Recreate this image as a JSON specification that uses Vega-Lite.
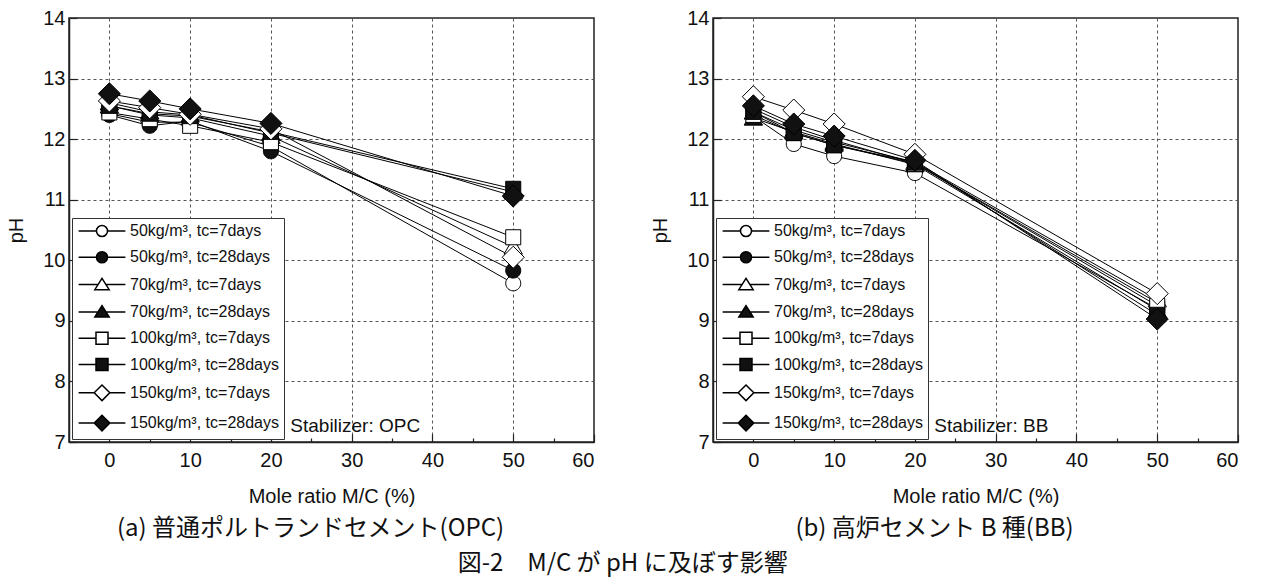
{
  "$schema": "https://vega.github.io/schema/vega-lite/v6.json",
  "background": "white",
  "padding": {"left": 6, "top": 7, "right": 5, "bottom": 5},
  "config": {
    "font": "Liberation Sans",
    "view": {"stroke": "#222", "strokeWidth": 1.5},
    "axis": {"labelFontSize": 20, "titleFontSize": 20, "titleFontWeight": "normal", "labelColor": "#111", "titleColor": "#111", "domainColor": "#222", "domainWidth": 1.5, "tickColor": "#222", "tickWidth": 1.2, "gridColor": "#555", "gridDash": [3, 3], "gridWidth": 1},
    "legend": {"orient": "bottom-left", "offset": 3, "padding": 5, "strokeColor": "#333", "fillColor": "white", "labelFontSize": 16, "labelFont": "Liberation Sans", "labelColor": "#111", "symbolSize": 144, "symbolOffset": 17, "labelOffset": 20, "rowPadding": 8.3, "labelLimit": 300},
    "title": {"font": "Noto Sans CJK JP", "fontWeight": "normal", "color": "#111"}
  },
  "datasets": {
    "opc": [
      {"ratio": 0, "pH": 12.42, "series": "50-7"},
      {"ratio": 5, "pH": 12.28, "series": "50-7"},
      {"ratio": 10, "pH": 12.28, "series": "50-7"},
      {"ratio": 20, "pH": 11.88, "series": "50-7"},
      {"ratio": 50, "pH": 9.62, "series": "50-7"},
      {"ratio": 0, "pH": 12.40, "series": "50-28"},
      {"ratio": 5, "pH": 12.22, "series": "50-28"},
      {"ratio": 10, "pH": 12.30, "series": "50-28"},
      {"ratio": 20, "pH": 11.80, "series": "50-28"},
      {"ratio": 50, "pH": 9.83, "series": "50-28"},
      {"ratio": 0, "pH": 12.55, "series": "70-7"},
      {"ratio": 5, "pH": 12.40, "series": "70-7"},
      {"ratio": 10, "pH": 12.35, "series": "70-7"},
      {"ratio": 20, "pH": 12.05, "series": "70-7"},
      {"ratio": 50, "pH": 10.22, "series": "70-7"},
      {"ratio": 0, "pH": 12.60, "series": "70-28"},
      {"ratio": 5, "pH": 12.45, "series": "70-28"},
      {"ratio": 10, "pH": 12.40, "series": "70-28"},
      {"ratio": 20, "pH": 12.10, "series": "70-28"},
      {"ratio": 50, "pH": 11.13, "series": "70-28"},
      {"ratio": 0, "pH": 12.44, "series": "100-7"},
      {"ratio": 5, "pH": 12.33, "series": "100-7"},
      {"ratio": 10, "pH": 12.22, "series": "100-7"},
      {"ratio": 20, "pH": 11.95, "series": "100-7"},
      {"ratio": 50, "pH": 10.38, "series": "100-7"},
      {"ratio": 0, "pH": 12.55, "series": "100-28"},
      {"ratio": 5, "pH": 12.42, "series": "100-28"},
      {"ratio": 10, "pH": 12.38, "series": "100-28"},
      {"ratio": 20, "pH": 12.12, "series": "100-28"},
      {"ratio": 50, "pH": 11.18, "series": "100-28"},
      {"ratio": 0, "pH": 12.63, "series": "150-7"},
      {"ratio": 5, "pH": 12.52, "series": "150-7"},
      {"ratio": 10, "pH": 12.41, "series": "150-7"},
      {"ratio": 20, "pH": 12.17, "series": "150-7"},
      {"ratio": 50, "pH": 10.05, "series": "150-7"},
      {"ratio": 0, "pH": 12.75, "series": "150-28"},
      {"ratio": 5, "pH": 12.63, "series": "150-28"},
      {"ratio": 10, "pH": 12.50, "series": "150-28"},
      {"ratio": 20, "pH": 12.26, "series": "150-28"},
      {"ratio": 50, "pH": 11.06, "series": "150-28"}
    ],
    "bb": [
      {"ratio": 0, "pH": 12.38, "series": "50-7"},
      {"ratio": 5, "pH": 11.92, "series": "50-7"},
      {"ratio": 10, "pH": 11.72, "series": "50-7"},
      {"ratio": 20, "pH": 11.44, "series": "50-7"},
      {"ratio": 50, "pH": 9.20, "series": "50-7"},
      {"ratio": 0, "pH": 12.50, "series": "50-28"},
      {"ratio": 5, "pH": 12.20, "series": "50-28"},
      {"ratio": 10, "pH": 11.98, "series": "50-28"},
      {"ratio": 20, "pH": 11.60, "series": "50-28"},
      {"ratio": 50, "pH": 9.30, "series": "50-28"},
      {"ratio": 0, "pH": 12.45, "series": "70-7"},
      {"ratio": 5, "pH": 12.15, "series": "70-7"},
      {"ratio": 10, "pH": 11.95, "series": "70-7"},
      {"ratio": 20, "pH": 11.62, "series": "70-7"},
      {"ratio": 50, "pH": 9.35, "series": "70-7"},
      {"ratio": 0, "pH": 12.35, "series": "70-28"},
      {"ratio": 5, "pH": 12.12, "series": "70-28"},
      {"ratio": 10, "pH": 11.92, "series": "70-28"},
      {"ratio": 20, "pH": 11.58, "series": "70-28"},
      {"ratio": 50, "pH": 9.18, "series": "70-28"},
      {"ratio": 0, "pH": 12.40, "series": "100-7"},
      {"ratio": 5, "pH": 12.10, "series": "100-7"},
      {"ratio": 10, "pH": 11.90, "series": "100-7"},
      {"ratio": 20, "pH": 11.60, "series": "100-7"},
      {"ratio": 50, "pH": 9.25, "series": "100-7"},
      {"ratio": 0, "pH": 12.45, "series": "100-28"},
      {"ratio": 5, "pH": 12.10, "series": "100-28"},
      {"ratio": 10, "pH": 11.90, "series": "100-28"},
      {"ratio": 20, "pH": 11.62, "series": "100-28"},
      {"ratio": 50, "pH": 9.10, "series": "100-28"},
      {"ratio": 0, "pH": 12.70, "series": "150-7"},
      {"ratio": 5, "pH": 12.48, "series": "150-7"},
      {"ratio": 10, "pH": 12.25, "series": "150-7"},
      {"ratio": 20, "pH": 11.75, "series": "150-7"},
      {"ratio": 50, "pH": 9.45, "series": "150-7"},
      {"ratio": 0, "pH": 12.55, "series": "150-28"},
      {"ratio": 5, "pH": 12.25, "series": "150-28"},
      {"ratio": 10, "pH": 12.05, "series": "150-28"},
      {"ratio": 20, "pH": 11.65, "series": "150-28"},
      {"ratio": 50, "pH": 9.03, "series": "150-28"}
    ]
  },
  "title": {"text": "図-2　M/C が pH に及ぼす影響", "orient": "bottom", "anchor": "middle", "fontSize": 24, "offset": 10},
  "spacing": 54,
  "resolve": {"scale": {"shape": "independent", "fill": "independent"}, "legend": {"shape": "independent", "fill": "independent"}},
  "hconcat": [
    {
      "width": 525,
      "height": 424,
      "title": {"text": "(a) 普通ポルトランドセメント(OPC)", "orient": "bottom", "anchor": "middle", "fontSize": 24, "offset": 11, "dx": -21},
      "layer": [
        {
          "data": {"name": "opc"},
          "mark": {"type": "line", "color": "black", "strokeWidth": 1},
          "encoding": {
            "x": {"field": "ratio", "type": "quantitative", "scale": {"domain": [-5, 60], "nice": false, "zero": false},
              "axis": {"title": "Mole ratio M/C (%)", "values": [0, 5, 10, 15, 20, 25, 30, 35, 40, 45, 50, 55, 60], "labelExpr": "datum.value % 10 === 0 ? format(datum.value, 'd') : ''", "grid": true,
                "gridOpacity": {"condition": {"test": "datum.value % 10 === 0 && datum.value < 60", "value": 1}, "value": 0},
                "tickSize": {"condition": {"test": "datum.value % 10 === 0", "value": -8}, "value": -4}, "labelPadding": 16, "titlePadding": 16}},
            "y": {"field": "pH", "type": "quantitative", "scale": {"domain": [7, 14], "nice": false, "zero": false},
              "axis": {"title": "pH", "values": [7, 7.5, 8, 8.5, 9, 9.5, 10, 10.5, 11, 11.5, 12, 12.5, 13, 13.5, 14], "labelExpr": "datum.value % 1 === 0 ? format(datum.value, 'd') : ''", "grid": true,
                "gridOpacity": {"condition": {"test": "datum.value % 1 === 0 && datum.value > 7 && datum.value < 14", "value": 1}, "value": 0},
                "tickSize": {"condition": {"test": "datum.value % 1 === 0", "value": -8}, "value": -4}, "labelPadding": 12, "titlePadding": 16}},
            "detail": {"field": "series"},
            "order": {"field": "ratio"}
          }
        },
        {
          "data": {"name": "opc"},
          "mark": {"type": "point", "filled": true, "stroke": "black", "strokeWidth": 1, "opacity": 1, "size": 256},
          "encoding": {
            "x": {"field": "ratio", "type": "quantitative"},
            "y": {"field": "pH", "type": "quantitative"},
            "shape": {"field": "series", "type": "nominal", "legend": {"title": null, "values": ["50kg/m³, tc=7days", "50kg/m³, tc=28days", "70kg/m³, tc=7days", "70kg/m³, tc=28days", "100kg/m³, tc=7days", "100kg/m³, tc=28days", "150kg/m³, tc=7days", "150kg/m³, tc=28days"]}, "scale": {"domain": ["50-7", "50-28", "70-7", "70-28", "100-7", "100-28", "150-7", "150-28", "50kg/m³, tc=7days", "50kg/m³, tc=28days", "70kg/m³, tc=7days", "70kg/m³, tc=28days", "100kg/m³, tc=7days", "100kg/m³, tc=28days", "150kg/m³, tc=7days", "150kg/m³, tc=28days"],
              "range": ["M-0.94,0A0.94,0.94 0 1,1 0.94,0A0.94,0.94 0 1,1 -0.94,0Z", "M-0.94,0A0.94,0.94 0 1,1 0.94,0A0.94,0.94 0 1,1 -0.94,0Z", "M0,-1.1L1.15,0.9L-1.15,0.9Z", "M0,-1.1L1.15,0.9L-1.15,0.9Z", "M-0.94,-0.94H0.94V0.94H-0.94Z", "M-0.94,-0.94H0.94V0.94H-0.94Z", "M-1.38,0L0,-1.38L1.38,0L0,1.38Z", "M-1.38,0L0,-1.38L1.38,0L0,1.38Z",
                "M-3.9,0H-0.92M0.92,0H3.9M-0.92,0A0.92,0.92 0 1,1 0.92,0A0.92,0.92 0 1,1 -0.92,0Z", "M-3.9,0H-0.92M0.92,0H3.9M-0.92,0A0.92,0.92 0 1,1 0.92,0A0.92,0.92 0 1,1 -0.92,0Z", "M-3.9,0H-0.66M0.66,0H3.9M0,-1.05L1.2,0.85L-1.2,0.85Z", "M-3.9,0H-0.66M0.66,0H3.9M0,-1.05L1.2,0.85L-1.2,0.85Z", "M-3.9,0H-1M1,0H3.9M-1,-1H1V1H-1Z", "M-3.9,0H-1M1,0H3.9M-1,-1H1V1H-1Z", "M-3.9,0H-1.3M1.3,0H3.9M-1.3,0L0,-1.3L1.3,0L0,1.3Z", "M-3.9,0H-1.3M1.3,0H3.9M-1.3,0L0,-1.3L1.3,0L0,1.3Z"]}},
            "fill": {"field": "series", "type": "nominal", "legend": {"title": null, "values": ["50kg/m³, tc=7days", "50kg/m³, tc=28days", "70kg/m³, tc=7days", "70kg/m³, tc=28days", "100kg/m³, tc=7days", "100kg/m³, tc=28days", "150kg/m³, tc=7days", "150kg/m³, tc=28days"]}, "scale": {"domain": ["50-7", "50-28", "70-7", "70-28", "100-7", "100-28", "150-7", "150-28", "50kg/m³, tc=7days", "50kg/m³, tc=28days", "70kg/m³, tc=7days", "70kg/m³, tc=28days", "100kg/m³, tc=7days", "100kg/m³, tc=28days", "150kg/m³, tc=7days", "150kg/m³, tc=28days"],
              "range": ["white", "#111", "white", "#111", "white", "#111", "white", "#111", "white", "#111", "white", "#111", "white", "#111", "white", "#111"]}}
          }
        },
        {
          "data": {"values": [{"label": "Stabilizer: OPC"}]},
          "mark": {"type": "text", "align": "left", "baseline": "middle", "fontSize": 19, "color": "#111"},
          "encoding": {
            "x": {"datum": 22.4, "type": "quantitative"},
            "y": {"datum": 7.26, "type": "quantitative"},
            "text": {"field": "label"}
          }
        }
      ]
    },
    {
      "width": 525,
      "height": 424,
      "title": {"text": "(b) 高炉セメント B 種(BB)", "orient": "bottom", "anchor": "middle", "fontSize": 24, "offset": 11, "dx": -41},
      "layer": [
        {
          "data": {"name": "bb"},
          "mark": {"type": "line", "color": "black", "strokeWidth": 1},
          "encoding": {
            "x": {"field": "ratio", "type": "quantitative", "scale": {"domain": [-5, 60], "nice": false, "zero": false},
              "axis": {"title": "Mole ratio M/C (%)", "values": [0, 5, 10, 15, 20, 25, 30, 35, 40, 45, 50, 55, 60], "labelExpr": "datum.value % 10 === 0 ? format(datum.value, 'd') : ''", "grid": true,
                "gridOpacity": {"condition": {"test": "datum.value % 10 === 0 && datum.value < 60", "value": 1}, "value": 0},
                "tickSize": {"condition": {"test": "datum.value % 10 === 0", "value": -8}, "value": -4}, "labelPadding": 16, "titlePadding": 16}},
            "y": {"field": "pH", "type": "quantitative", "scale": {"domain": [7, 14], "nice": false, "zero": false},
              "axis": {"title": "pH", "values": [7, 7.5, 8, 8.5, 9, 9.5, 10, 10.5, 11, 11.5, 12, 12.5, 13, 13.5, 14], "labelExpr": "datum.value % 1 === 0 ? format(datum.value, 'd') : ''", "grid": true,
                "gridOpacity": {"condition": {"test": "datum.value % 1 === 0 && datum.value > 7 && datum.value < 14", "value": 1}, "value": 0},
                "tickSize": {"condition": {"test": "datum.value % 1 === 0", "value": -8}, "value": -4}, "labelPadding": 12, "titlePadding": 16}},
            "detail": {"field": "series"},
            "order": {"field": "ratio"}
          }
        },
        {
          "data": {"name": "bb"},
          "mark": {"type": "point", "filled": true, "stroke": "black", "strokeWidth": 1, "opacity": 1, "size": 256},
          "encoding": {
            "x": {"field": "ratio", "type": "quantitative"},
            "y": {"field": "pH", "type": "quantitative"},
            "shape": {"field": "series", "type": "nominal", "legend": {"title": null, "values": ["50kg/m³, tc=7days", "50kg/m³, tc=28days", "70kg/m³, tc=7days", "70kg/m³, tc=28days", "100kg/m³, tc=7days", "100kg/m³, tc=28days", "150kg/m³, tc=7days", "150kg/m³, tc=28days"]}, "scale": {"domain": ["50-7", "50-28", "70-7", "70-28", "100-7", "100-28", "150-7", "150-28", "50kg/m³, tc=7days", "50kg/m³, tc=28days", "70kg/m³, tc=7days", "70kg/m³, tc=28days", "100kg/m³, tc=7days", "100kg/m³, tc=28days", "150kg/m³, tc=7days", "150kg/m³, tc=28days"],
              "range": ["M-0.94,0A0.94,0.94 0 1,1 0.94,0A0.94,0.94 0 1,1 -0.94,0Z", "M-0.94,0A0.94,0.94 0 1,1 0.94,0A0.94,0.94 0 1,1 -0.94,0Z", "M0,-1.1L1.15,0.9L-1.15,0.9Z", "M0,-1.1L1.15,0.9L-1.15,0.9Z", "M-0.94,-0.94H0.94V0.94H-0.94Z", "M-0.94,-0.94H0.94V0.94H-0.94Z", "M-1.38,0L0,-1.38L1.38,0L0,1.38Z", "M-1.38,0L0,-1.38L1.38,0L0,1.38Z",
                "M-3.9,0H-0.92M0.92,0H3.9M-0.92,0A0.92,0.92 0 1,1 0.92,0A0.92,0.92 0 1,1 -0.92,0Z", "M-3.9,0H-0.92M0.92,0H3.9M-0.92,0A0.92,0.92 0 1,1 0.92,0A0.92,0.92 0 1,1 -0.92,0Z", "M-3.9,0H-0.66M0.66,0H3.9M0,-1.05L1.2,0.85L-1.2,0.85Z", "M-3.9,0H-0.66M0.66,0H3.9M0,-1.05L1.2,0.85L-1.2,0.85Z", "M-3.9,0H-1M1,0H3.9M-1,-1H1V1H-1Z", "M-3.9,0H-1M1,0H3.9M-1,-1H1V1H-1Z", "M-3.9,0H-1.3M1.3,0H3.9M-1.3,0L0,-1.3L1.3,0L0,1.3Z", "M-3.9,0H-1.3M1.3,0H3.9M-1.3,0L0,-1.3L1.3,0L0,1.3Z"]}},
            "fill": {"field": "series", "type": "nominal", "legend": {"title": null, "values": ["50kg/m³, tc=7days", "50kg/m³, tc=28days", "70kg/m³, tc=7days", "70kg/m³, tc=28days", "100kg/m³, tc=7days", "100kg/m³, tc=28days", "150kg/m³, tc=7days", "150kg/m³, tc=28days"]}, "scale": {"domain": ["50-7", "50-28", "70-7", "70-28", "100-7", "100-28", "150-7", "150-28", "50kg/m³, tc=7days", "50kg/m³, tc=28days", "70kg/m³, tc=7days", "70kg/m³, tc=28days", "100kg/m³, tc=7days", "100kg/m³, tc=28days", "150kg/m³, tc=7days", "150kg/m³, tc=28days"],
              "range": ["white", "#111", "white", "#111", "white", "#111", "white", "#111", "white", "#111", "white", "#111", "white", "#111", "white", "#111"]}}
          }
        },
        {
          "data": {"values": [{"label": "Stabilizer: BB"}]},
          "mark": {"type": "text", "align": "left", "baseline": "middle", "fontSize": 19, "color": "#111"},
          "encoding": {
            "x": {"datum": 22.4, "type": "quantitative"},
            "y": {"datum": 7.26, "type": "quantitative"},
            "text": {"field": "label"}
          }
        }
      ]
    }
  ]
}
